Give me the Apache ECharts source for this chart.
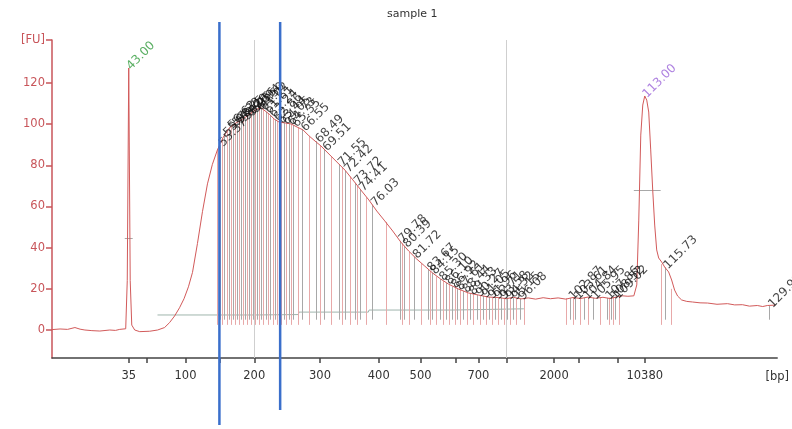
<!DOCTYPE html>
<html>
<head>
<meta charset="utf-8">
<script src="https://cdn.jsdelivr.net/npm/echarts@6/dist/echarts.min.js"></script>
<style>html,body{margin:0;padding:0;background:#fff}#c{width:792px;height:429px}</style>
</head>
<body>
<div id="c"></div>
<script>
// Migration time [s] vs fluorescence [FU]
const traceTime = [32.59,33.68,34.70,35.70,36.40,37.05,38.00,39.08,40.43,41.20,41.78,42.59,42.80,43.00,43.20,43.41,43.81,44.49,45.84,46.92,47.86,48.54,49.22,49.89,50.50,51.10,51.65,52.32,53.00,53.68,54.35,55.03,55.84,56.65,57.46,58.27,59.08,59.76,60.43,60.97,61.51,62.05,62.73,63.41,64.22,65.03,65.84,66.65,67.46,68.27,69.08,70.16,71.24,72.33,73.41,74.49,75.57,76.65,77.73,78.81,79.89,80.97,82.06,83.14,84.22,85.30,86.38,87.73,89.08,90.43,91.79,93.14,94.20,95.16,96.20,97.19,98.20,99.22,100.20,101.25,102.30,103.27,104.30,105.30,106.30,107.33,108.30,109.35,110.00,110.71,111.52,111.92,112.19,112.46,112.73,113.00,113.27,113.54,113.81,114.08,114.35,114.62,114.89,115.30,115.70,116.24,116.65,117.05,117.46,118.00,118.70,119.49,120.50,121.52,122.80,124.22,125.20,126.25,127.20,128.27,129.00,129.63,130.71];
const traceFU = [0.2,0.5,0.3,1.2,0.4,0.0,-0.3,-0.5,0.0,-0.2,0.3,0.6,24,127.3,24,2.4,0.0,-0.8,-0.6,0.0,1.2,3.6,6.8,10.8,15.2,21.0,28.0,42.0,57.5,71.0,80.5,87.5,93.8,98.2,100.4,102,104,105.9,107.4,107.9,106.4,104.9,102.5,101,100.6,100.1,98.6,97.2,94.3,91.8,89.4,85.5,81.6,77.7,72.9,68,63.2,57.8,53,48.1,42.8,38.4,34.5,31.1,27.7,24.8,22.3,19.9,18,17,16,15.8,15.2,15.9,15.1,15.6,15.0,15.7,15.2,15.6,15.0,15.8,15.3,16.0,15.4,15.9,15.3,16.2,16.6,16.4,16.6,21.9,53.4,94.7,109.3,113.7,111.7,105.9,87.5,68,51,38.9,35,33,30.6,28.2,24.3,19.4,16.5,14.6,13.9,13.6,13.2,13.1,12.5,12.8,12.2,12.3,11.6,11.9,11.4,11.9,12.1];

// Detected peaks: migration time [s] and height [FU]
const peakTimes = [55.37,55.98,56.62,57.23,57.75,58.29,58.75,59.36,59.94,60.50,61.02,61.61,62.24,62.86,63.44,64.05,64.73,65.35,66.55,68.49,69.51,71.55,72.42,73.72,74.41,76.03,79.78,80.39,81.72,83.67,84.15,85.30,86.10,86.92,87.61,88.44,89.33,90.27,91.05,91.96,92.71,93.58,94.32,95.15,96.08,102.87,103.61,104.84,105.95,107.86,108.52,109.02,115.73,129.92];
const peakFU = [90,95,98.5,100,101,102,103,104.8,106.5,107.5,107.5,106,104.2,102.2,101,100.7,100.3,99.5,97.4,91.8,87.8,80.5,77.3,71.5,68.3,60.9,43.3,40.9,35.6,29.4,27.9,24.8,22.9,21.1,20.1,18.9,17.8,17.1,16.5,16,15.8,15.8,15.7,15.5,15.4,15.5,15.6,15.7,15.7,15.6,15.8,16,30.5,11.7];

// Peak boundaries (time [s], height [FU])
const boundTimes = [55.0,55.68,56.30,56.93,57.49,58.02,58.52,59.05,59.65,60.22,60.76,61.31,61.92,62.55,63.15,63.75,64.39,65.04,65.95,67.52,69.0,70.53,71.98,73.07,74.06,75.22,77.9,80.08,81.05,82.7,83.91,84.72,85.70,86.51,87.26,88.02,88.88,89.80,90.66,91.50,92.33,93.14,93.95,94.73,95.61,96.6,102.4,103.24,104.22,105.4,106.9,108.19,108.77,109.5,115.2,116.6];
const boundFU = [88,93,97,99,100.5,101.5,102.5,104,105.5,107,107.7,106.8,105,103,101.5,100.8,100.5,100,98.4,94,89.6,84,79,74.5,70,64.5,52.5,42,38,32.3,28.6,26,23.8,22,20.6,19.5,18.3,17.4,16.8,16.2,15.9,15.8,15.7,15.6,15.4,15.3,15.4,15.6,15.6,15.7,15.6,15.7,15.9,16,32,20];

// Peak baseline
const baseTimes = [46.9,60.0,66.0,66.1,75.5,75.6,87.0,96.6];
const baseFU = [7.3,7.3,7.5,8.7,8.7,9.7,9.7,10.3];

// Markers (lower / upper)
const markerTimes = [43.00,113.00];
const markerFU = [127.3,113.7];
const markerLabels = ['43.00','113.00'];
const markerColors = ['#2e9a3a','#9a62d8'];
const markerHalfFrom = [42.46,111.52];
const markerHalfTo = [43.54,115.16];
const markerHalfFU = [44.7,68];

// Ladder: bp sizes and their migration times
const ladderBp = ['35','50','100','150','200','300','400','500','600','700','1000','2000','3000','7000','10380'];
const ladderTimes = [43.00,45.43,50.70,55.30,60.03,68.95,76.92,82.59,87.32,90.43,94.22,100.70,104.08,109.35,113.00];
const ladderShown = ['35','100','200','300','400','500','700','2000','10380'];

const yTicks = [0,20,40,60,80,100,120];
const regionTimes = [60.03,94.22];
const blueTimes = [55.30,63.54];
const blueTopFU = [149.6,149.6];
const blueBottomFU = [-46.2,-38.9];

const X_MIN = 32.59, X_MAX = 130.97, Y_MIN = -13.6, Y_MAX = 140.9;

const chart = echarts.init(document.getElementById('c'), null, {renderer:'canvas'});
const font = 'DejaVu Sans';
const labelTimes = ladderShown.map(b => ladderTimes[ladderBp.indexOf(b)]);

const peakLines = peakTimes.map((t,i) => [{coord:[t,5]},{coord:[t,peakFU[i]]}]);
const boundLines = boundTimes.map((t,i) => [{coord:[t,2.5]},{coord:[t,boundFU[i]]}]);
const halfLines = markerTimes.map((t,i) => [{coord:[markerHalfFrom[i],markerHalfFU[i]]},{coord:[markerHalfTo[i],markerHalfFU[i]]}]);
const regionLines = regionTimes.map(t => [{coord:[t,Y_MIN]},{coord:[t,Y_MAX]}]);

chart.setOption({
  animation:false,
  backgroundColor:'#fff',
  title:{text:'sample 1',left:382,top:4,textStyle:{fontFamily:font,fontSize:11,fontWeight:'normal',color:'#333'}},
  grid:{left:52,right:12,top:40,bottom:71},
  xAxis:{
    type:'value',min:X_MIN,max:X_MAX,
    axisLine:{show:true,onZero:false,lineStyle:{color:'#444',width:1.5}},
    axisTick:{show:true,length:5,customValues:ladderTimes,lineStyle:{color:'#444',width:1.5}},
    axisLabel:{customValues:labelTimes,margin:12,fontFamily:font,fontSize:11.5,color:'#333',
      formatter:v=>{const i=ladderTimes.findIndex(t=>Math.abs(t-v)<0.01);return i>=0?ladderBp[i]:'';}},
    splitLine:{show:false},
    name:'[bp]',nameLocation:'end',nameGap:0,
    nameTextStyle:{fontFamily:font,fontSize:11.5,color:'#333',align:'center',verticalAlign:'top',padding:[13,0,0,0]}
  },
  yAxis:{
    type:'value',min:Y_MIN,max:Y_MAX,
    axisLine:{show:true,onZero:false,lineStyle:{color:'#c8555a',width:1.5}},
    axisTick:{show:true,length:6,customValues:yTicks.concat([Y_MAX]),lineStyle:{color:'#c8555a',width:1.5}},
    axisLabel:{customValues:yTicks.concat([Y_MAX]),margin:7,fontFamily:font,fontSize:11.5,color:'#c8555a',
      formatter:v=>v>130?'[FU]':String(v)},
    splitLine:{show:false}
  },
  series:[
    {type:'line',name:'baseline',data:baseTimes.map((t,i)=>[t,baseFU[i]]),symbol:'none',
     lineStyle:{color:'#9fb5ad',width:1},z:2,
     markLine:{silent:true,symbol:'none',label:{show:false},animation:false,
       lineStyle:{color:'#e8a9a9',width:1,type:'solid'},data:boundLines}},
    {type:'line',name:'peaks',data:[],symbol:'none',z:3,
     markLine:{silent:true,symbol:'none',label:{show:false},animation:false,
       lineStyle:{color:'#a8a8a8',width:1,type:'solid'},data:peakLines.concat(halfLines)}},
    {type:'line',name:'regions',data:[],symbol:'none',z:1,
     markLine:{silent:true,symbol:'none',label:{show:false},animation:false,
       lineStyle:{color:'#cfcfcf',width:1,type:'solid'},data:regionLines}},
    {type:'line',name:'trace',data:traceTime.map((t,i)=>[t,traceFU[i]]),symbol:'none',
     lineStyle:{color:'#d25a5a',width:1},z:5},
    {type:'scatter',name:'peakLabels',data:peakTimes.map((t,i)=>[t,peakFU[i]]),symbolSize:0,z:6,
     label:{show:true,position:'right',distance:1,rotate:45,align:'left',verticalAlign:'middle',
       fontFamily:font,fontSize:12,color:'#111',formatter:p=>peakTimes[p.dataIndex].toFixed(2)}},
    {type:'scatter',name:'markerLabels',
     data:markerTimes.map((t,i)=>({value:[t,markerFU[i]],label:{color:markerColors[i]}})),symbolSize:0,z:6,
     label:{show:true,position:'right',distance:0,rotate:45,align:'left',verticalAlign:'middle',
       fontFamily:font,fontSize:12,formatter:p=>markerLabels[p.dataIndex]}}
  ]
});

// Blue annotation lines, positioned through the axes' scales
const g = blueTimes.map((t,i)=>{
  const p1 = chart.convertToPixel({gridIndex:0},[t,blueTopFU[i]]);
  const p2 = chart.convertToPixel({gridIndex:0},[t,blueBottomFU[i]]);
  return {type:'line',shape:{x1:p1[0],y1:p1[1],x2:p2[0],y2:p2[1]},style:{stroke:'#3a6fcb',lineWidth:2.5},z:100};
});
chart.setOption({graphic:g});
</script>
</body>
</html>
